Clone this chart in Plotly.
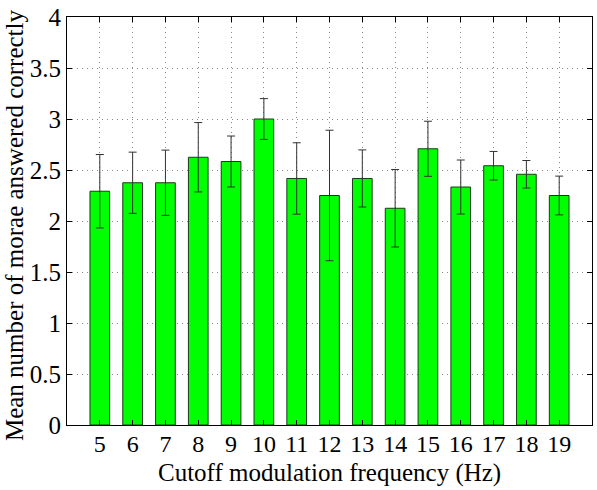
import plotly.graph_objects as go

freqs = [5, 6, 7, 8, 9, 10, 11, 12, 13, 14, 15, 16, 17, 18, 19]
means = [2.292, 2.375, 2.375, 2.625, 2.583, 3.0, 2.417, 2.25, 2.417, 2.125, 2.708, 2.333, 2.542, 2.458, 2.25]
errs = [0.36, 0.30, 0.32, 0.34, 0.25, 0.20, 0.35, 0.64, 0.28, 0.38, 0.27, 0.265, 0.14, 0.135, 0.19]
y_ticks = [0, 0.5, 1, 1.5, 2, 2.5, 3, 3.5, 4]
y_tick_text = ["0", "0.5", "1", "1.5", "2", "2.5", "3", "3.5", "4"]
x_title = "Cutoff modulation frequency (Hz)"
y_title = "Mean number of morae answered correctly"

FONT = "Liberation Serif"

fig = go.Figure()
fig.add_trace(go.Bar(
    x=freqs, y=means, width=0.6,
    marker=dict(color="#00FF00", line=dict(color="#1a3a1a", width=1)),
    error_y=dict(type="data", array=errs, visible=True, color="#333333", thickness=1, width=4),
))

axis_common = dict(
    showline=True, linecolor="black", linewidth=1, mirror="ticks",
    ticks="inside", ticklen=5, tickcolor="black",
    showgrid=True, gridcolor="#888888", griddash="1px,4px", gridwidth=1,
    zeroline=False, ticklabeloverflow="allow",
    tickfont=dict(family=FONT, size=25, color="black"),
)

fig.update_layout(
    width=597, height=490,
    margin=dict(l=67, r=4, t=11, b=65),
    paper_bgcolor="white", plot_bgcolor="white",
    showlegend=False,
    xaxis=dict(
        range=[4, 20], tickmode="array", tickvals=freqs, ticktext=[str(f) for f in freqs],
        **{**axis_common, "tickfont": dict(family=FONT, size=24, color="black")},
        ticklabelstandoff=-3,
    ),
    yaxis=dict(
        range=[0, 4], tickmode="array", tickvals=y_ticks, ticktext=y_tick_text,
        **axis_common,
    ),
    annotations=[
        dict(text=x_title, xref="paper", yref="paper", x=0.5, y=-0.117,
             xanchor="center", yanchor="middle", showarrow=False,
             font=dict(family=FONT, size=25, color="black")),
        dict(text=y_title, xref="paper", yref="paper", x=-0.101, y=0.49,
             xanchor="center", yanchor="middle", showarrow=False, textangle=-90,
             font=dict(family=FONT, size=25, color="black")),
    ],
)

fig.write_html("out.html")
